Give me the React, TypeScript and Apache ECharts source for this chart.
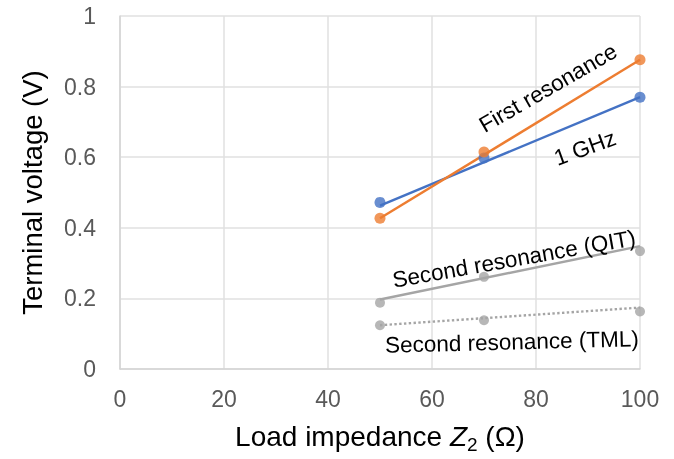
import React, { useEffect, useRef } from "react";
import * as echarts from "echarts";

const xPoints = [50, 70, 100];
const blueDots = [0.472, 0.598, 0.770];
const orangeDots = [0.427, 0.615, 0.876];
const qitDots = [0.188, 0.261, 0.334];
const tmlDots = [0.124, 0.138, 0.163];

const trendX = [50, 100];
const blueTrend = [0.463, 0.770];
const orangeTrend = [0.427, 0.876];
const qitTrend = [0.197, 0.348];
const tmlTrend = [0.124, 0.174];

const xTicks = [0, 20, 40, 60, 80, 100];
const yTicks = [0, 0.2, 0.4, 0.6, 0.8, 1];

const BLUE = "#4472C4";
const ORANGE = "#ED7D31";
const GREY = "#A5A5A5";
const FONT = "Liberation Sans, Arial, sans-serif";

const pairs = (xs: number[], ys: number[]) => xs.map((x, i) => [x, ys[i]]);

export default function App() {
  const ref = useRef<HTMLDivElement>(null);
  useEffect(() => {
    if (!ref.current) return;
    const chart = echarts.init(ref.current, null, { renderer: "svg" });
    const dotSeries = (name: string, ys: number[], color: string, size: number) => ({
      name,
      type: "scatter",
      data: pairs(xPoints, ys),
      symbolSize: size,
      itemStyle: { color },
      z: 5,
    });
    const trendSeries = (name: string, ys: number[], color: string, dotted = false) => ({
      name,
      type: "line",
      data: pairs(trendX, ys),
      showSymbol: false,
      symbol: "none",
      lineStyle: { color, width: 2.4, type: dotted ? "dotted" : "solid" },
      z: 4,
    });
    const label = (text: string, x: number, y: number, deg: number) => ({
      type: "text",
      x,
      y,
      rotation: (deg * Math.PI) / 180,
      style: {
        text,
        fontFamily: FONT,
        fontSize: 22.5,
        fill: "#000",
        align: "center",
        verticalAlign: "middle",
      },
      z: 10,
    });
    chart.setOption({
      animation: false,
      grid: { left: 120, right: 34, top: 16, bottom: 87 },
      xAxis: {
        type: "value",
        min: xTicks[0],
        max: xTicks[xTicks.length - 1],
        interval: xTicks[1] - xTicks[0],
        name: "Load impedance {i|Z}{sub|2} (Ω)",
        nameLocation: "middle",
        nameGap: 50,
        nameTextStyle: {
          fontFamily: FONT,
          fontSize: 28,
          color: "#000",
          rich: {
            i: { fontFamily: FONT, fontSize: 28, fontStyle: "italic", color: "#000" },
            sub: { fontFamily: FONT, fontSize: 19, color: "#000", padding: [16, 0, 0, 0] },
          },
        },
        axisLine: { show: true, lineStyle: { color: "#d4d4d4", width: 1.5 } },
        axisTick: { show: false },
        axisLabel: { fontFamily: FONT, fontSize: 23, color: "#595959", margin: 18 },
        splitLine: { show: true, lineStyle: { color: "#e0e0e0", width: 1.5 } },
      },
      yAxis: {
        type: "value",
        min: yTicks[0],
        max: yTicks[yTicks.length - 1],
        interval: yTicks[1] - yTicks[0],
        name: "Terminal voltage (V)",
        nameLocation: "middle",
        nameGap: 74,
        nameTextStyle: { fontFamily: FONT, fontSize: 27.5, color: "#000" },
        axisLine: { show: true, lineStyle: { color: "#d4d4d4", width: 1.5 } },
        axisTick: { show: false },
        axisLabel: { fontFamily: FONT, fontSize: 23, color: "#595959", margin: 24 },
        splitLine: { show: true, lineStyle: { color: "#e0e0e0", width: 1.5 } },
      },
      series: [
        trendSeries("Second resonance (TML) trend", tmlTrend, GREY, true),
        trendSeries("Second resonance (QIT) trend", qitTrend, GREY),
        trendSeries("1 GHz trend", blueTrend, BLUE),
        trendSeries("First resonance trend", orangeTrend, ORANGE),
        dotSeries("Second resonance (TML)", tmlDots, GREY, 10),
        dotSeries("Second resonance (QIT)", qitDots, GREY, 10),
        dotSeries("1 GHz", blueDots, BLUE, 11),
        dotSeries("First resonance", orangeDots, ORANGE, 11),
      ],
      graphic: [
        label("First resonance", 548, 88, 30),
        label("1 GHz", 585, 148, 20),
        label("Second resonance (QIT)", 514, 259, 10),
        label("Second resonance (TML)", 512, 342, 1.5),
      ],
    });
    return () => chart.dispose();
  }, []);
  return <div ref={ref} style={{ position: "fixed", left: 0, top: 0, width: 674, height: 459 }} />;
}
